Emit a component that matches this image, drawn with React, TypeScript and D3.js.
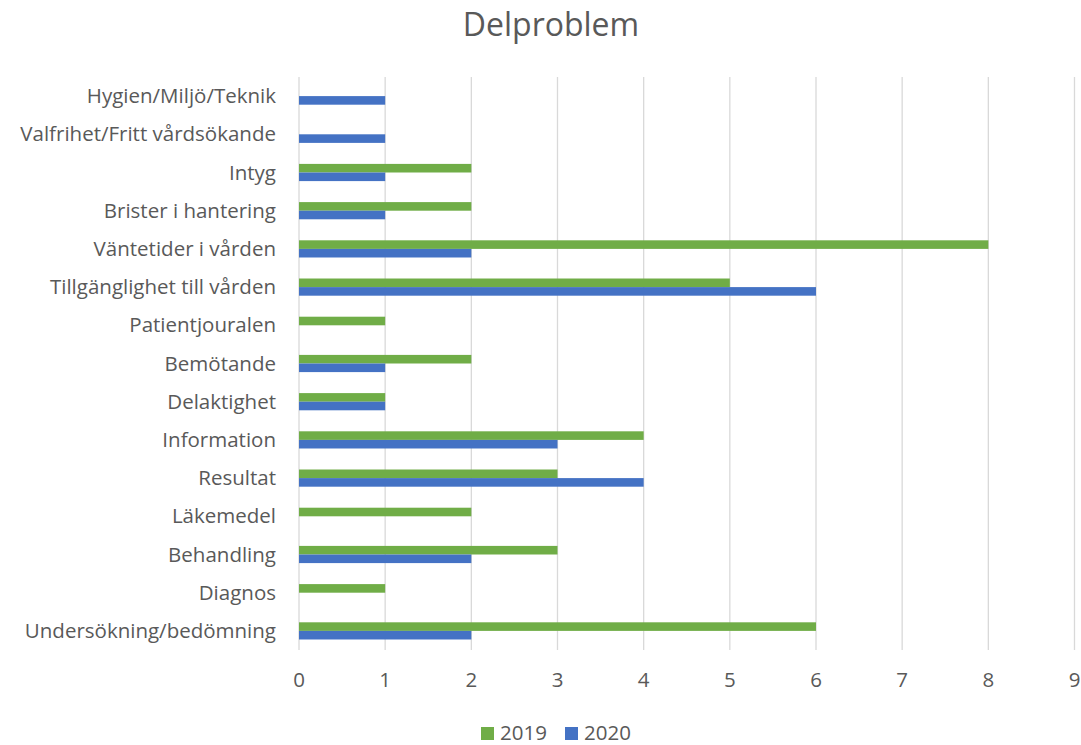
import React from "react";
import * as d3 from "d3";

const categories = [
  "Hygien/Miljö/Teknik",
  "Valfrihet/Fritt vårdsökande",
  "Intyg",
  "Brister i hantering",
  "Väntetider i vården",
  "Tillgänglighet till vården",
  "Patientjouralen",
  "Bemötande",
  "Delaktighet",
  "Information",
  "Resultat",
  "Läkemedel",
  "Behandling",
  "Diagnos",
  "Undersökning/bedömning",
];
const values2019 = [0, 0, 2, 2, 8, 5, 1, 2, 1, 4, 3, 2, 3, 1, 6];
const values2020 = [1, 1, 1, 1, 2, 6, 0, 1, 1, 3, 4, 0, 2, 0, 2];
const seriesNames = ["2019", "2020"];
const seriesColors = ["#70AD47", "#4472C4"];
const xTicks = [0, 1, 2, 3, 4, 5, 6, 7, 8, 9];

const W = 1081;
const H = 745;
const font = "'Open Sans', 'Liberation Sans', sans-serif";
const textColor = "#595959";

export default function App() {
  const x = d3.scaleLinear().domain([0, 9]).range([299, 1074.5]);
  const y = d3.scaleBand<string>().domain(categories).range([77, 650]).paddingInner(0.55).paddingOuter(0.275);
  const inner = d3.scaleBand<string>().domain(seriesNames).range([0, y.bandwidth()]);
  const series = [values2019, values2020];

  return (
    <svg width={W} height={H} style={{ position: "absolute", left: 0, top: 0, background: "#fff" }}>
      <text x={551} y={36} textAnchor="middle" fontFamily={font} fontSize={32} fill={textColor}>
        Delproblem
      </text>
      {xTicks.map((t) => (
        <line key={"g" + t} x1={x(t)} x2={x(t)} y1={77} y2={650} stroke="#d9d9d9" strokeWidth={1.3} />
      ))}
      {categories.map((c, i) => (
        <g key={c}>
          {series.map((vals, s) =>
            vals[i] > 0 ? (
              <rect
                key={s}
                x={x(0)}
                y={(y(c) as number) + (inner(seriesNames[s]) as number)}
                width={x(vals[i]) - x(0)}
                height={inner.bandwidth()}
                fill={seriesColors[s]}
              />
            ) : null
          )}
          <text
            x={276}
            y={(y(c) as number) + y.bandwidth() / 2}
            dy="0.35em"
            textAnchor="end"
            fontFamily={font}
            fontSize={20.5}
            fill={textColor}
          >
            {c}
          </text>
        </g>
      ))}
      {xTicks.map((t) => (
        <text key={"t" + t} x={x(t)} y={687} textAnchor="middle" fontFamily={font} fontSize={20.5} fill={textColor}>
          {t}
        </text>
      ))}
      {seriesNames.map((n, i) => (
        <g key={n} transform={`translate(${481 + i * 84},0)`}>
          <rect x={0} y={727} width={13} height={13} fill={seriesColors[i]} />
          <text x={19} y={740} fontFamily={font} fontSize={20.5} fill={textColor}>
            {n}
          </text>
        </g>
      ))}
    </svg>
  );
}
